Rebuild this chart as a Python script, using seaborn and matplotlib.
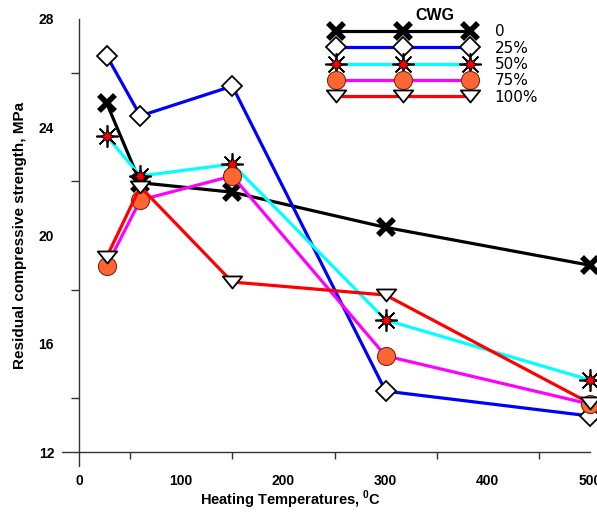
import matplotlib
matplotlib.use("Agg")
import matplotlib.pyplot as plt
from matplotlib.path import Path
from matplotlib.legend_handler import HandlerTuple
import seaborn as sns
import pandas as pd
import numpy as np

temps = [27, 60, 150, 300, 500]
cwg_labels = ["0", "25%", "50%", "75%", "100%"]
s0 = [24.9, 21.95, 21.6, 20.3, 18.9]
s25 = [26.65, 24.42, 25.52, 14.25, 13.33]
s50 = [23.68, 22.2, 22.64, 16.88, 14.66]
s75 = [18.87, 21.31, 22.2, 15.55, 13.77]
s100 = [19.2, 21.8, 18.28, 17.8, 13.8]
series = [s0, s25, s50, s75, s100]

sns.set_theme(style="white")
plt.rcParams['font.family'] = ['Liberation Sans', 'DejaVu Sans']
plt.rcParams['mathtext.fontset'] = 'custom'
plt.rcParams['mathtext.rm'] = 'Liberation Sans'
plt.rcParams['mathtext.bf'] = 'Liberation Sans:bold'
plt.rcParams['text.color'] = 'black'
plt.rcParams['axes.labelcolor'] = 'black'
plt.rcParams['xtick.color'] = 'black'
plt.rcParams['ytick.color'] = 'black'

fig = plt.figure(figsize=(5.97, 5.12), dpi=100)
ax = fig.add_axes([79/597, 1-452/512, (590-79)/597, (452-19)/512])

tri = Path([(-1.0, 0.62), (1.0, 0.62), (0.0, -0.62), (-1.0, 0.62)],
           [Path.MOVETO, Path.LINETO, Path.LINETO, Path.CLOSEPOLY])

line_colors = ["black", "#0000FF", "#00FFFF", "#FF00FF", "#FF0000"]
styles = [
    dict(marker="x", markersize=12, markeredgewidth=4, markeredgecolor="black", markerfacecolor="black"),
    dict(marker="D", markersize=10, markeredgewidth=1.3, markeredgecolor="black", markerfacecolor="white"),
    dict(marker=(8, 2, 0), markersize=16, markeredgewidth=1.2, markeredgecolor="black", markerfacecolor="black"),
    dict(marker="o", markersize=13, markeredgewidth=0.8, markeredgecolor="#7a2a10", markerfacecolor="#FF6633"),
    dict(marker=tri, markersize=14, markeredgewidth=1.3, markeredgecolor="black", markerfacecolor="white"),
]

handles = []
for i, (lab, vals) in enumerate(zip(cwg_labels, series)):
    df = pd.DataFrame({"T": temps, "S": vals})
    sns.lineplot(data=df, x="T", y="S", ax=ax, color=line_colors[i], linewidth=2.3,
                 legend=False, zorder=3 + i, clip_on=False, **styles[i])
    h = ax.lines[-1]
    if i == 2:
        sns.lineplot(data=df, x="T", y="S", ax=ax, color=line_colors[i], linewidth=0,
                     legend=False, zorder=3 + i + 0.5, clip_on=False,
                     marker=(8, 1, 0), markersize=10, markeredgewidth=0.8,
                     markeredgecolor="black", markerfacecolor="#FF0000")
        h = (h, ax.lines[-1])
    handles.append(h)

ax.set_xlim(0, 500)
ax.set_ylim(12, 28)
ax.set_xticks([0, 100, 200, 300, 400, 500])
ax.set_xticks(np.arange(50, 500, 100), minor=True)
ax.set_yticks([12, 16, 20, 24, 28])
ax.set_yticks([14, 18, 22, 26], minor=True)

for s in ["top", "right"]:
    ax.spines[s].set_visible(False)
for s in ["left", "bottom"]:
    ax.spines[s].set_color("#333333")
    ax.spines[s].set_linewidth(1.0)

ax.tick_params(axis="x", which="major", direction="out", length=10, width=1, color="#333333", pad=6)
ax.tick_params(axis="x", which="minor", direction="out", length=5, width=1, color="#333333", bottom=True)
ax.tick_params(axis="y", which="major", direction="out", length=12, width=1, color="#333333", pad=6)
ax.tick_params(axis="y", which="minor", direction="out", length=6, width=1, color="#333333", left=True)
ax.tick_params(labelsize=10, labelcolor="black")
for t in ax.get_xticklabels() + ax.get_yticklabels():
    t.set_fontweight("bold")

# spine extensions beyond crossing point
ax.plot([-17/511, 0], [0, 0], transform=ax.transAxes, color="#333333", lw=1.0, clip_on=False)
ax.plot([0, 0], [-14/433, 0], transform=ax.transAxes, color="#333333", lw=1.0, clip_on=False)

ax.set_xlabel(r"Heating Temperatures, $^{\mathbf{0}}$C", fontsize=10.5, fontweight="bold", labelpad=4)
ax.xaxis.set_label_coords((291-79)/511, -0.085)
ax.set_ylabel("Residual compressive strength, MPa", fontsize=11, fontweight="bold", labelpad=8)

leg = ax.legend(handles, cwg_labels, loc="upper left",
                bbox_to_anchor=(322/597, 1 + 1/512), bbox_transform=fig.transFigure,
                frameon=False, title="CWG", numpoints=3, handlelength=9.4, fontsize=11,
                labelspacing=0.085, handletextpad=1.3, borderpad=0.1,
                handler_map={tuple: HandlerTuple(ndivide=1, pad=0)})
leg.get_title().set_fontweight("bold")
leg.get_title().set_fontsize(11.5)
for t in leg.get_texts():
    t.set_family(['DejaVu Sans'])
leg._legend_box.align = "center"

fig.savefig("out.png", dpi=100)
